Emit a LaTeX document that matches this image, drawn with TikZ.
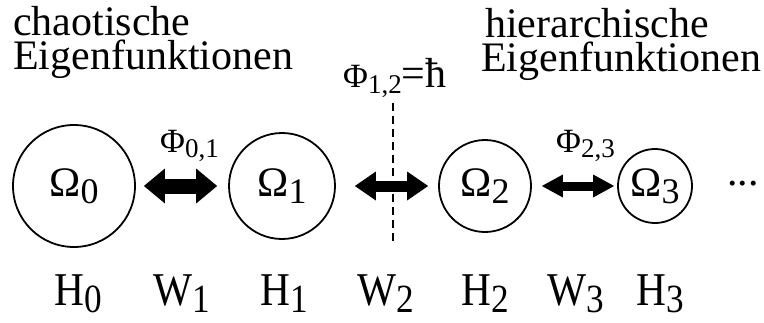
\documentclass[tikz,border=0pt]{standalone}
\usepackage{fontspec}
\setmainfont{Liberation Serif}
\newfontfamily\tallfont[FakeStretch=0.88]{Liberation Serif}
\usetikzlibrary{arrows.meta}
\newcommand{\idx}[2][36]{\raisebox{-0.17em}{\fontsize{#1}{#1}\selectfont #2}}

\begin{document}
\begin{tikzpicture}[x=1pt, y=1pt,
    lab/.style={font=\fontsize{42}{34}\selectfont, inner sep=0pt},
    small/.style={font=\fontsize{34}{34}\selectfont, inner sep=0pt},
    tall/.style={font=\tallfont\fontsize{47}{47}\selectfont, inner sep=0pt},
    omega/.style={lab, circle, draw, line width=1.8pt},
    dbl/.style 2 args={line width=#1, >={Triangle[width=#2, length=21pt, line width=0pt]}, <->}]
    \useasboundingbox (0,0) rectangle (764,322);
    % Ueberschriften
    \node[lab, align=left, anchor=north west] (chaos) at (13,316) {chaotische\\Eigenfunktionen};
    \node[lab, align=left, anchor=north west] (hier) at (481,314) {\kern4pt hierarchische\\Eigenfunktionen};
    % Kreise
    \foreach \i/\x/\d in {0/74/122, 1/282/106, 2/485/92, 3/655/74}
        \node[omega, minimum size=\d pt] (o\i) at (\x,136) {Ω\idx{\i}};
    \node[lab, anchor=base west] (dots) at (727,136) {...};
    % Schnitt
    \node[small, anchor=base west] (p12) at (343,234) {Φ\idx[27]{1,2}{\fontsize{42}{42}\selectfont =ħ}};
    \coordinate (cut) at (393,219);
    \coordinate (cutend) at (393,79);
    \draw[dash pattern=on 8pt off 5pt, line width=2.4pt] (cut) -- (cutend);
    % Pfeile
    \draw[dbl={15pt}{35pt}, shorten <=8pt, shorten >=11pt] (o0) -- (o1);
    \draw[dbl={11pt}{29pt}, shorten <=19pt, shorten >=10pt] (o1) -- (o2);
    \draw[dbl={9pt}{23pt}, shorten <=10pt, shorten >=3pt] (o2) -- (o3);
    \node[small, anchor=base west] (p01) at (160,170) {Φ\idx[27]{0,1}};
    \node[small, anchor=base west] (p23) at (556,170) {Φ\idx[27]{2,3}};
    % Hamilton-Operatoren
    \foreach \l/\s/\x in {H/0/78, W/1/182, H/1/284, W/2/386, H/2/485, W/3/576, H/3/660}
        \node[tall, anchor=base] (\l\s) at (\x,17) {\l\idx[40]{\s}};
\end{tikzpicture}
\end{document}
